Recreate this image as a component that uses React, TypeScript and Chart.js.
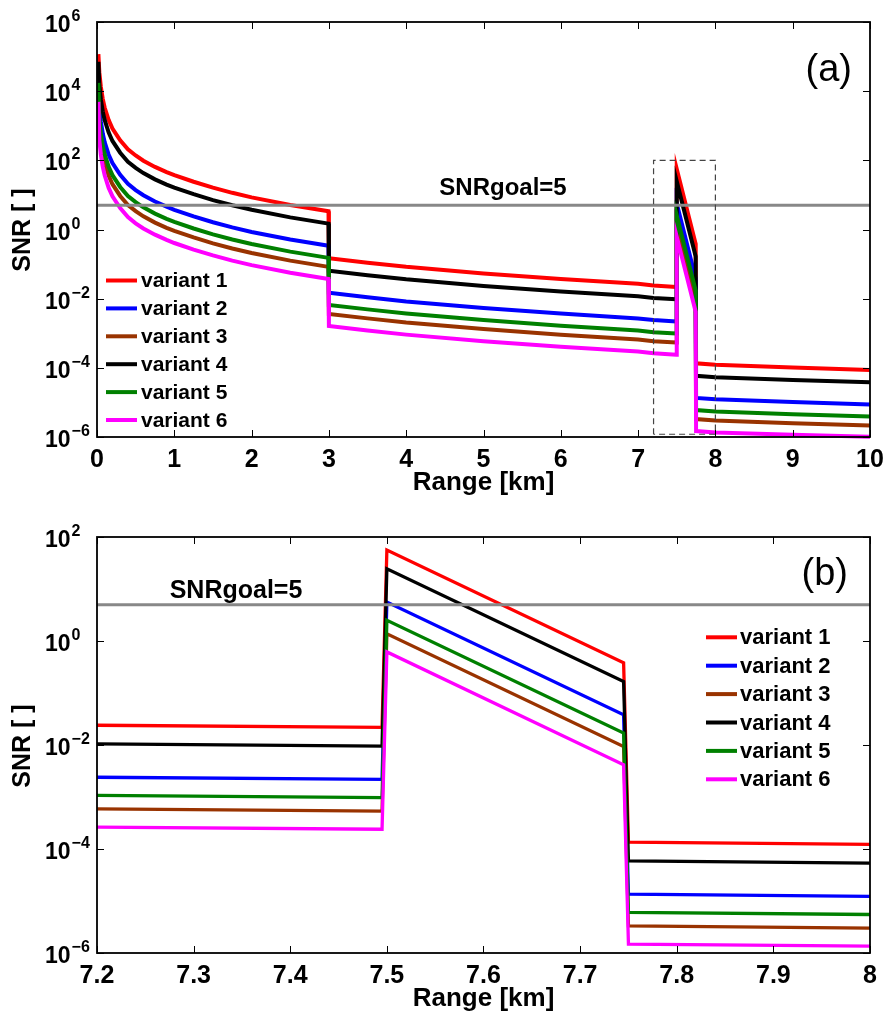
import { useEffect, useRef } from 'react';
import { Chart, registerables } from 'chart.js';

Chart.register(...registerables);

// ---------- data ----------
const rangeKm = [0.018, 0.03, 0.05, 0.075, 0.1, 0.15, 0.2, 0.3, 0.4, 0.5, 0.6, 0.75, 0.9, 1, 1.25, 1.5, 1.75, 2, 2.5, 2.995, 3, 3.5, 4, 5, 6, 7, 7.2, 7.495, 7.5, 7.745, 7.75, 8, 9, 10];

const variant1 = [1.17e5, 3.55e4, 1.32e4, 5890, 3310, 1480, 832, 380, 209, 138, 97.7, 64.6, 45.7, 37.2, 24.0, 16.2, 11.5, 8.51, 5.13, 3.39, 0.148, 0.110, 0.0832, 0.0537, 0.0372, 0.0269, 0.024, 0.0219, 56.2, 0.38, 1.35e-4, 1.23e-4, 1.02e-4, 8.71e-5];
const variant2 = [1.86e4, 3550, 1320, 589, 331, 148, 83.2, 38.0, 20.9, 13.8, 9.77, 6.46, 4.57, 3.72, 2.40, 1.62, 1.15, 0.851, 0.513, 0.339, 0.0148, 0.011, 0.00832, 0.00537, 0.00372, 0.00269, 0.0024, 0.00219, 5.62, 0.038, 1.35e-5, 1.23e-5, 1.02e-5, 8.71e-6];
const variant3 = [1.0e4, 871, 324, 145, 81.3, 36.3, 20.4, 9.33, 5.13, 3.39, 2.40, 1.58, 1.12, 0.912, 0.589, 0.398, 0.282, 0.209, 0.126, 0.0832, 0.00363, 0.00269, 0.00204, 0.00132, 9.12e-4, 6.61e-4, 5.89e-4, 5.37e-4, 1.38, 0.00933, 3.31e-6, 3.02e-6, 2.51e-6, 2.14e-6];
const variant4 = [7.08e4, 1.55e4, 5750, 2570, 1450, 646, 363, 166, 91.2, 60.3, 42.7, 28.2, 19.95, 16.2, 10.5, 7.08, 5.01, 3.72, 2.24, 1.48, 0.0646, 0.0479, 0.0363, 0.0234, 0.0162, 0.0117, 0.0105, 0.00955, 24.5, 0.166, 5.89e-5, 5.37e-5, 4.47e-5, 3.8e-5];
const variant5 = [1.74e4, 1580, 589, 263, 148, 66.1, 37.2, 17.0, 9.33, 6.17, 4.37, 2.88, 2.04, 1.66, 1.07, 0.724, 0.513, 0.38, 0.229, 0.151, 0.00661, 0.0049, 0.00372, 0.0024, 0.00166, 0.0012, 0.00107, 9.77e-4, 2.51, 0.017, 6.03e-6, 5.5e-6, 4.57e-6, 3.89e-6];
const variant6 = [4900, 389, 145, 64.6, 36.3, 16.2, 9.12, 4.17, 2.29, 1.51, 1.07, 0.708, 0.501, 0.407, 0.263, 0.178, 0.126, 0.0933, 0.0562, 0.0372, 0.00162, 0.0012, 9.12e-4, 5.89e-4, 4.07e-4, 2.95e-4, 2.63e-4, 2.4e-4, 0.617, 0.00417, 1.48e-6, 1.35e-6, 1.17e-6, 1.02e-6];

const variantNames = ['variant 1', 'variant 2', 'variant 3', 'variant 4', 'variant 5', 'variant 6'];
const variantColors = ['#ff0000', '#0000ff', '#993300', '#000000', '#008000', '#ff00ff'];

const snrGoal = 5;
const snrGoalLabel = 'SNRgoal=5';

const zoomBoxX = [7.2, 7.2, 8, 8, 7.2];
const zoomBoxY = [1.2e-6, 100, 100, 1.2e-6, 1.2e-6];

const xTicksA = [0, 1, 2, 3, 4, 5, 6, 7, 8, 9, 10];
const xTickLabelsA = ['0', '1', '2', '3', '4', '5', '6', '7', '8', '9', '10'];
const xTicksB = [7.2, 7.3, 7.4, 7.5, 7.6, 7.7, 7.8, 7.9, 8];
const xTickLabelsB = ['7.2', '7.3', '7.4', '7.5', '7.6', '7.7', '7.8', '7.9', '8'];

const yTicksA = [1e6, 1e4, 1e2, 1, 1e-2, 1e-4, 1e-6];
const yTickExpA = ['6', '4', '2', '0', '\u22122', '\u22124', '\u22126'];
const yTicksB = [1e2, 1, 1e-2, 1e-4, 1e-6];
const yTickExpB = ['2', '0', '\u22122', '\u22124', '\u22126'];

const xTitle = 'Range [km]';
const yTitle = 'SNR [ ]';

// ---------- layout ----------
const FONT = '"Liberation Sans", Arial, Helvetica, sans-serif';
const W = 888;
const H = 508;

type Spec = {
  xMin: number; xMax: number; yMin: number; yMax: number;
  xTicks: number[]; xTickLabels: string[];
  yTicks: number[]; yTickExp: string[];
  padTop: number; xAxisHeight: number;
  lineWidth: number; showZoomBox: boolean;
  goal: { x: number; y: number; size: number };
  panel: { text: string; right: number; y: number };
  legend: { y0: number; dy: number; x0: number; x1: number; tx: number; size: number };
  yTitleY: number; xTitleY: number;
};

const specA: Spec = {
  xMin: 0, xMax: 10, yMin: 1e-6, yMax: 1e6,
  xTicks: xTicksA, xTickLabels: xTickLabelsA,
  yTicks: yTicksA, yTickExp: yTickExpA,
  padTop: 22, xAxisHeight: 71,
  lineWidth: 4, showZoomBox: true,
  goal: { x: 503, y: 195, size: 24 },
  panel: { text: '(a)', right: 852, y: 81 },
  legend: { y0: 280.5, dy: 27.9, x0: 106, x1: 137, tx: 141, size: 21 },
  yTitleY: 230, xTitleY: 490,
};

const specB: Spec = {
  xMin: 7.2, xMax: 8, yMin: 1e-6, yMax: 1e2,
  xTicks: xTicksB, xTickLabels: xTickLabelsB,
  yTicks: yTicksB, yTickExp: yTickExpB,
  padTop: 29, xAxisHeight: 63,
  lineWidth: 3.3, showZoomBox: false,
  goal: { x: 236, y: 90, size: 25 },
  panel: { text: '(b)', right: 848, y: 77 },
  legend: { y0: 129.3, dy: 28.4, x0: 706, x1: 737, tx: 740, size: 22 },
  yTitleY: 238, xTitleY: 498,
};

function drawDecor(chart: any, s: Spec) {
  const ctx: CanvasRenderingContext2D = chart.ctx;
  const { left, right, top, bottom } = chart.chartArea;
  const xs = chart.scales.x;
  const ys = chart.scales.y;
  const TL = 7;
  ctx.save();

  // tick marks
  ctx.strokeStyle = '#000';
  ctx.lineWidth = 1;
  ctx.beginPath();
  s.xTicks.forEach((v) => {
    const px = Math.round(xs.getPixelForValue(v)) + 0.5;
    ctx.moveTo(px, bottom); ctx.lineTo(px, bottom - TL);
    ctx.moveTo(px, top); ctx.lineTo(px, top + TL);
  });
  s.yTicks.forEach((v) => {
    const py = Math.round(ys.getPixelForValue(v)) + 0.5;
    ctx.moveTo(left, py); ctx.lineTo(left + TL, py);
    ctx.moveTo(right, py); ctx.lineTo(right - TL, py);
  });
  ctx.stroke();

  // box
  ctx.lineWidth = 1.8;
  ctx.strokeRect(left, top, right - left, bottom - top);

  ctx.fillStyle = '#000';
  // x tick labels
  ctx.font = `bold 25px ${FONT}`;
  ctx.textAlign = 'center';
  ctx.textBaseline = 'alphabetic';
  s.xTicks.forEach((v, i) => {
    ctx.fillText(s.xTickLabels[i], xs.getPixelForValue(v), bottom + 30);
  });

  // y tick labels: 10^n
  s.yTicks.forEach((v, i) => {
    const py = ys.getPixelForValue(v);
    ctx.textAlign = 'left';
    ctx.font = `bold 23px ${FONT}`;
    ctx.fillText('10', 45, py + 10);
    const w = ctx.measureText('10').width;
    ctx.font = `bold 16px ${FONT}`;
    ctx.fillText(s.yTickExp[i], 45 + w + 1, py - 1);
  });

  // axis titles
  ctx.font = `bold 26px ${FONT}`;
  ctx.textAlign = 'center';
  ctx.fillText(xTitle, (left + right) / 2, s.xTitleY);
  ctx.save();
  ctx.translate(23, s.yTitleY);
  ctx.rotate(-Math.PI / 2);
  ctx.textBaseline = 'middle';
  ctx.font = `bold 25px ${FONT}`;
  ctx.fillText(yTitle, 0, 0);
  ctx.restore();

  // goal label
  ctx.font = `bold ${s.goal.size}px ${FONT}`;
  ctx.textAlign = 'center';
  ctx.textBaseline = 'alphabetic';
  ctx.fillText(snrGoalLabel, s.goal.x, s.goal.y);

  // panel label
  ctx.font = `38px ${FONT}`;
  ctx.textAlign = 'right';
  ctx.fillText(s.panel.text, s.panel.right, s.panel.y);

  // legend
  const L = s.legend;
  variantNames.forEach((name, i) => {
    const y = L.y0 + i * L.dy;
    ctx.strokeStyle = variantColors[i];
    ctx.lineWidth = 4;
    ctx.beginPath();
    ctx.moveTo(L.x0, y);
    ctx.lineTo(L.x1, y);
    ctx.stroke();
    ctx.fillStyle = '#000';
    ctx.font = `bold ${L.size}px ${FONT}`;
    ctx.textAlign = 'left';
    ctx.textBaseline = 'middle';
    ctx.fillText(name, L.tx, y + 1);
  });

  ctx.restore();
}

function buildChart(canvas: HTMLCanvasElement, s: Spec) {
  const series = [variant1, variant2, variant3, variant4, variant5, variant6];
  const datasets: any[] = series.map((vals, i) => ({
    label: variantNames[i],
    data: rangeKm.map((x, j) => ({ x, y: vals[j] })),
    borderColor: variantColors[i],
    backgroundColor: variantColors[i],
    borderWidth: s.lineWidth,
    pointRadius: 0,
    tension: 0,
    fill: false,
    order: 10 - i,
    clip: { left: 0, top: 0, right: 0, bottom: 2 },
  }));
  datasets.push({
    label: 'SNRgoal',
    data: [{ x: s.xMin, y: snrGoal }, { x: s.xMax, y: snrGoal }],
    borderColor: '#888888',
    borderWidth: 3,
    pointRadius: 0,
    order: 1,
    clip: 0,
  });
  if (s.showZoomBox) {
    datasets.push({
      label: 'zoom',
      data: zoomBoxX.map((x, i) => ({ x, y: zoomBoxY[i] })),
      borderColor: '#444444',
      borderWidth: 1.2,
      borderDash: [6, 4],
      pointRadius: 0,
      order: 0,
    });
  }
  return new Chart(canvas, {
    type: 'line',
    data: { datasets },
    options: {
      responsive: false,
      animation: false,
      events: [],
      layout: { padding: { left: 0, right: 18, top: s.padTop, bottom: 0 } },
      plugins: { legend: { display: false }, tooltip: { enabled: false } },
      scales: {
        x: {
          type: 'linear', min: s.xMin, max: s.xMax,
          grid: { display: false }, border: { display: false }, ticks: { display: false },
          afterFit: (sc: any) => { sc.height = s.xAxisHeight; },
        },
        y: {
          type: 'logarithmic', min: s.yMin, max: s.yMax,
          grid: { display: false }, border: { display: false }, ticks: { display: false },
          afterFit: (sc: any) => { sc.width = 97; },
        },
      },
    } as any,
    plugins: [{ id: 'decor', afterDraw: (c: any) => drawDecor(c, s) }],
  });
}

function Panel({ spec, top }: { spec: Spec; top: number }) {
  const ref = useRef<HTMLCanvasElement>(null);
  useEffect(() => {
    if (!ref.current) return;
    const chart = buildChart(ref.current, spec);
    return () => chart.destroy();
  }, [spec]);
  return (
    <canvas
      ref={ref}
      width={W}
      height={H}
      style={{ position: 'absolute', left: 0, top, width: W, height: H, display: 'block' }}
    />
  );
}

export default function App() {
  return (
    <div style={{ position: 'absolute', left: 0, top: 0, width: 888, height: 1016, background: '#fff' }}>
      <Panel spec={specA} top={0} />
      <Panel spec={specB} top={508} />
    </div>
  );
}
